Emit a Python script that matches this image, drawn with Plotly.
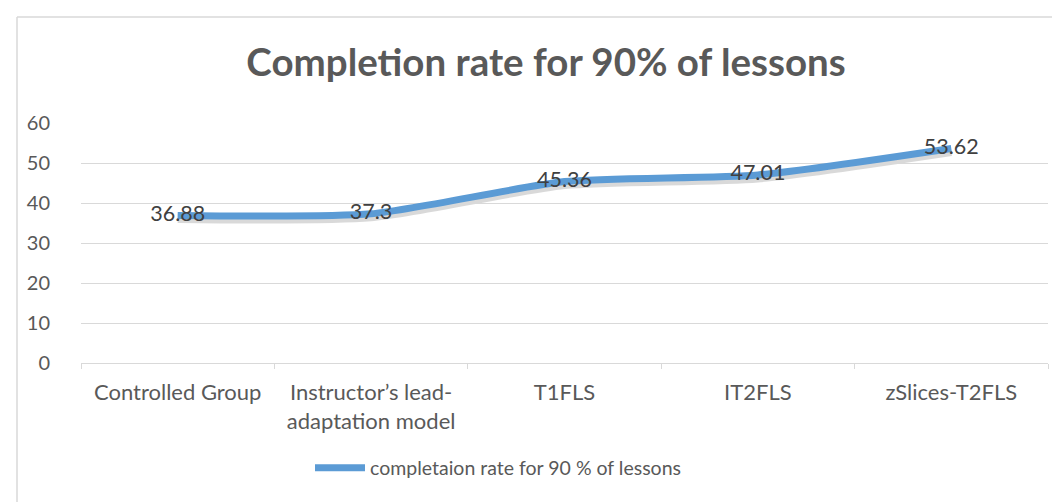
import plotly.graph_objects as go

categories = ["Controlled Group", "Instructor’s lead-<br>adaptation model", "T1FLS", "IT2FLS", "zSlices-T2FLS"]
values = [36.88, 37.3, 45.36, 47.01, 53.62]
labels = ["36.88", "37.3", "45.36", "47.01", "53.62"]
series_name = "completaion rate for 90 % of lessons"
title_text = "Completion rate for 90% of lessons"
y_ticks = [0, 10, 20, 30, 40, 50, 60]

W, H = 1060, 502
L, R, T, B = 73, 20, 115, 144
plot_h = H - T - B
plot_w = W - L - R
shift = 3 / plot_h
FONT = "Lato"

fig = go.Figure()

# soft shadow, drawn on a hidden copy of the value axis shifted a few pixels down
fig.add_trace(go.Scatter(
    x=categories, y=values, mode="lines", yaxis="y",
    line=dict(color="rgba(0,0,0,0.15)", width=9, shape="spline", smoothing=0.6),
    showlegend=False, hoverinfo="skip"))

fig.add_trace(go.Scatter(
    x=categories, y=values, mode="lines+text", name=series_name, yaxis="y2",
    text=labels, textposition="middle center",
    textfont=dict(family=FONT, size=21.5, color="#404040"),
    line=dict(color="#5B9BD5", width=7, shape="spline", smoothing=0.6)))

fig.update_layout(
    width=W, height=H,
    margin=dict(l=L, r=R, t=T, b=B, pad=0),
    paper_bgcolor="white", plot_bgcolor="rgba(0,0,0,0)",
    font=dict(family=FONT, color="#595959"),
    title=dict(text=title_text, x=538 / W, y=1 - 55 / H, xref="container", yref="container",
               xanchor="center", yanchor="middle",
               font=dict(family=FONT, size=38.5, color="#595959", weight="bold")),
    xaxis=dict(type="category", range=[-0.5, 4.5], tickson="boundaries", anchor="y2",
               ticks="outside", ticklen=5, tickcolor="#D9D9D9", tickwidth=1,
               showline=True, linecolor="#D9D9D9", linewidth=1,
               showgrid=False, zeroline=False,
               tickfont=dict(family=FONT, size=22, color="#595959"),
               ticklabelstandoff=10),
    yaxis=dict(range=[0, 60], domain=[0, 1 - shift], anchor="x", visible=False,
               showgrid=False),
    yaxis2=dict(range=[0, 60], tickvals=y_ticks, domain=[shift, 1], anchor="x",
                showgrid=True, gridcolor="#D9D9D9", gridwidth=1,
                showline=False, zeroline=False, ticks="",
                tickfont=dict(family=FONT, size=20, color="#595959"),
                ticklabelstandoff=30),
    showlegend=True,
    legend=dict(orientation="h", x=(302 - L) / plot_w, xanchor="left",
                y=(H - B - 460) / plot_h, yanchor="middle",
                bgcolor="rgba(0,0,0,0)", itemwidth=50,
                font=dict(family=FONT, size=19.5, color="#595959")),
    shapes=[
        dict(type="line", xref="paper", yref="paper",
             x0=(9 - L) / plot_w, x1=(9 - L) / plot_w,
             y0=(H - B - 9) / plot_h, y1=-2, line=dict(color="#D9D9D9", width=1.5)),
        dict(type="line", xref="paper", yref="paper",
             x0=(9 - L) / plot_w, x1=1.2,
             y0=(H - B - 9) / plot_h, y1=(H - B - 9) / plot_h, line=dict(color="#D9D9D9", width=1.5)),
    ],
)

fig.write_html("out.html")
